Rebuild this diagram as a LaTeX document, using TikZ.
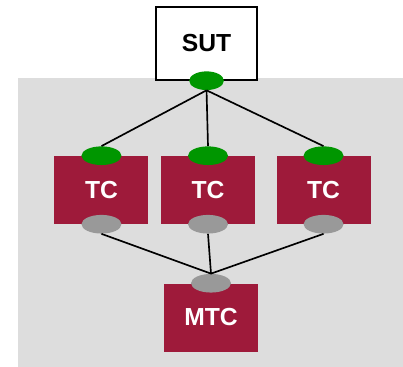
\documentclass[tikz,border=0pt]{standalone}
\usepackage{fontspec}
\setmainfont{Liberation Sans}
\usepackage{tikz}
\usepackage{xcolor}
\usetikzlibrary{shapes.geometric, positioning}
\definecolor{tcred}{RGB}{158,26,58}
\definecolor{portgreen}{RGB}{0,150,0}
\definecolor{portgray}{RGB}{153,153,153}
\definecolor{areagray}{RGB}{221,221,221}
\tikzstyle{sutbox} = [rectangle, 
minimum width=75.75pt, 
minimum height=54.75pt, 
text centered, 
fill=white, 
draw=black, line width=1.1pt, 
font=\bfseries\fontsize{18.5}{21}\selectfont]
\tikzstyle{tcbox} = [rectangle, 
minimum width=70.5pt, 
minimum height=51pt, 
text centered, 
fill=tcred, text=white, 
font=\bfseries\fontsize{18.5}{21}\selectfont]
\tikzstyle{gport} = [ellipse, 
minimum width=30pt, minimum height=14pt, inner sep=0pt, 
fill=portgreen]
\tikzstyle{sport} = [gport, fill=portgray]
\tikzstyle{link} = [line width=1.25pt]

\begin{document}
\begin{tikzpicture}[node distance=56.25pt]

        \useasboundingbox (0pt,0pt) rectangle (302.25pt,-275.25pt);
        % --- Zona gris ---
        \fill [areagray] (13.5pt,-58.5pt) rectangle (302.25pt,-275.25pt);

        % --- Definición de nodos ---
        \node (sut) [sutbox] at (154.9pt,-32.6pt) {SUT};
        \node (tc2) [tcbox, below=of sut, xshift=1.1pt] {TC};
        \node (tc1) [tcbox, left=9pt of tc2] {TC};
        \node (tc3) [tcbox, right=15.75pt of tc2] {TC};
        \node (mtc) [tcbox, below=44.25pt of tc2, xshift=2.25pt] {MTC};

        % Puertos
        \node (sutport) [gport, minimum width=26pt] at (sut.south) {};
        \node (tc1in) [gport] at (tc1.north) {};
        \node (tc2in) [gport] at (tc2.north) {};
        \node (tc3in) [gport] at (tc3.north) {};
        \node (tc1out) [sport] at (tc1.south) {};
        \node (tc2out) [sport] at (tc2.south) {};
        \node (tc3out) [sport] at (tc3.south) {};
        \node (mtcin) [sport] at (mtc.north) {};

        % --- Conexiones ---
        \draw [link] (sutport.south) -- (tc1in.north);
        \draw [link] (sutport.south) -- (tc2in.north);
        \draw [link] (sutport.south) -- (tc3in.north);

        \draw [link] (tc1out.south) -- (mtcin.north);
        \draw [link] (tc2out.south) -- (mtcin.north);
        \draw [link] (tc3out.south) -- (mtcin.north);

\end{tikzpicture}
\end{document}
